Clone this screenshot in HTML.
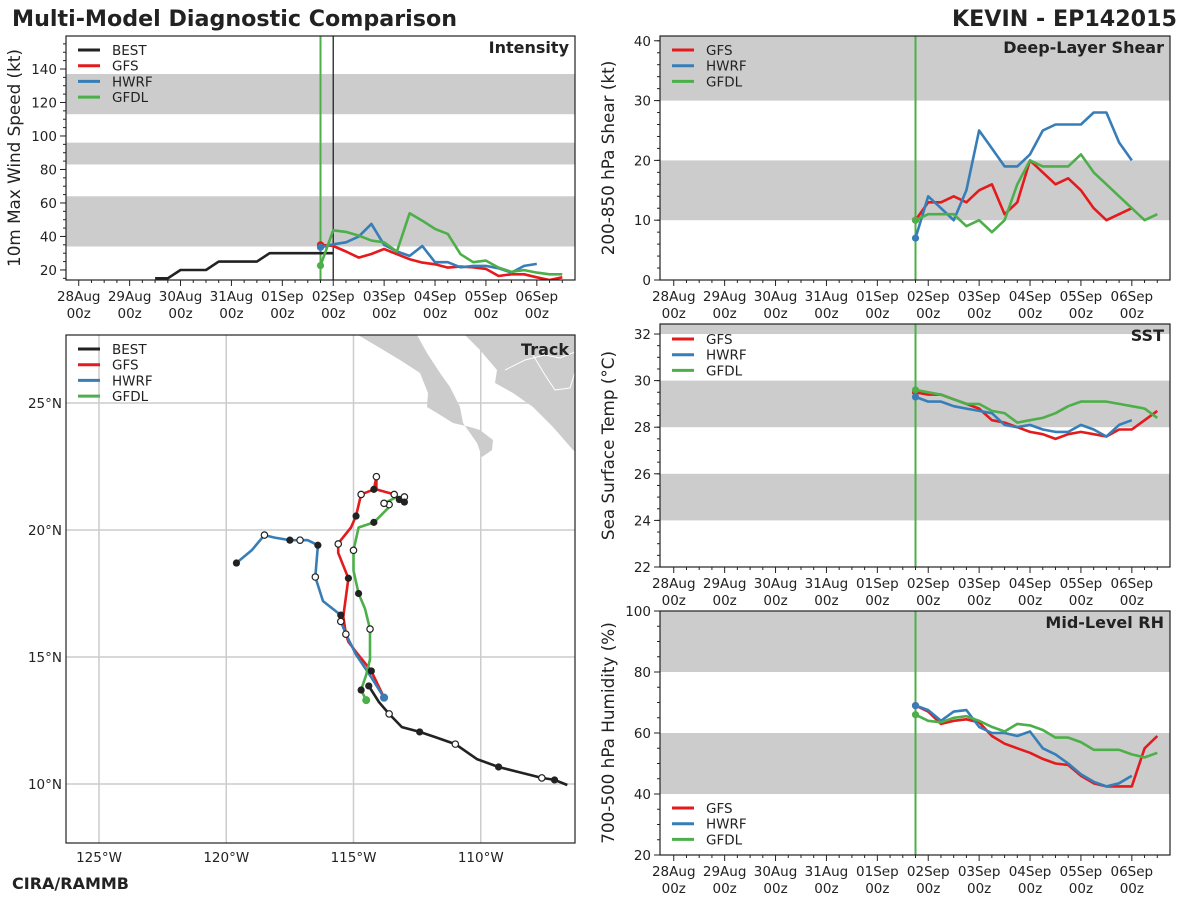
<!DOCTYPE html>
<html><head><meta charset="utf-8"><style>
body{margin:0;background:#fff;}
svg{display:block;font-family:"DejaVu Sans","Liberation Sans",sans-serif;}
</style></head><body>
<svg id="s" width="1200" height="900" viewBox="0 0 1200 900">
<text x="12" y="26" font-size="22.2" font-weight="bold" fill="#222">Multi-Model Diagnostic Comparison</text>
<text x="1177" y="26" font-size="22.2" font-weight="bold" fill="#222" text-anchor="end">KEVIN - EP142015</text>
<text x="12" y="889" font-size="16" font-weight="bold" fill="#222">CIRA/RAMMB</text>
</svg>
<script>
// ---------- data ----------
const dayLabels=["28Aug","29Aug","30Aug","31Aug","01Sep","02Sep","03Sep","04Sep","05Sep","06Sep"];
const modelStart=4.75, step=0.25;
const bestStart=1.5;
const intBest=[15,15,20,20,20,25,25,25,25,30,30,30,30,30,30];
const intGFS=[35,34.3,31,27.4,29.5,32.5,29.4,26.4,24.4,23.4,21.4,22,21.6,20.6,16.4,17.4,17.4,15.6,14,15.6];
const intHWRF=[33.5,35.3,36.5,39.9,47.5,35,31,28.4,34.3,24.6,24.6,21.6,22.4,22.4,21,18.4,22.4,23.6];
const intGFDL=[22.6,43.7,42.7,40.5,37.5,36.5,31,53.8,49.4,44.5,41.5,29.4,24.6,25.6,21.4,18.9,19.9,18.4,17.4,17.4];
const shrGFS=[10,13,13,14,13,15,16,11,13,20,18,16,17,15,12,10,11,12];
const shrHWRF=[7,14,12,10,15,25,22,19,19,21,25,26,26,26,28,28,23,20];
const shrGFDL=[10,11,11,11,9,10,8,10,16,20,19,19,19,21,18,16,14,12,10,11];
const sstGFS=[29.5,29.4,29.4,29.2,29.0,28.8,28.3,28.2,28.0,27.8,27.7,27.5,27.7,27.8,27.7,27.6,27.9,27.9,28.3,28.7];
const sstHWRF=[29.3,29.1,29.1,28.9,28.8,28.7,28.6,28.1,28.0,28.1,27.9,27.8,27.8,28.1,27.9,27.6,28.1,28.3];
const sstGFDL=[29.6,29.5,29.4,29.2,29.0,29.0,28.7,28.6,28.2,28.3,28.4,28.6,28.9,29.1,29.1,29.1,29.0,28.9,28.8,28.4];
const rhGFS=[69,67,63,64,64.5,63.5,59,56.5,55,53.5,51.5,50,49.5,46,43.5,42.5,42.5,42.5,55,59];
const rhHWRF=[69,67.5,64,67,67.5,62,60,60,59,60.5,55,53,50,46.5,44,42.5,43.5,46];
const rhGFDL=[66,64,63.5,65,65.5,64,62,60.5,63,62.5,61,58.5,58.5,57,54.5,54.5,54.5,53,52,53.5];
// tracks: [lonW, latN, marker]  marker: s=start, f=filled, o=open, ''=none
const trkBest=[[106.6,9.96,''],[107.1,10.16,'f'],[107.6,10.24,'o'],[108.5,10.47,''],[109.3,10.67,'f'],[110.15,10.98,''],[111.0,11.57,'o'],[111.8,11.85,''],[112.4,12.05,'f'],[113.1,12.24,''],[113.6,12.76,'o'],[114.0,13.23,''],[114.4,13.86,'f']];
const trkGFS=[[113.8,13.4,'s'],[114.3,14.45,'f'],[114.9,15.2,''],[115.2,15.6,''],[115.3,15.9,''],[115.4,16.6,''],[115.2,18.1,'f'],[115.6,19.1,''],[115.6,19.45,'o'],[115.5,19.6,''],[115.1,20.1,''],[114.9,20.55,'f'],[114.7,21.4,'o'],[114.2,21.6,'f'],[114.1,22.1,'o'],[114.1,21.6,''],[113.4,21.4,'o'],[113.2,21.2,'f']];
const trkHWRF=[[113.8,13.4,'s'],[114.3,14.2,''],[114.9,15.1,''],[115.3,15.9,'o'],[115.5,16.4,'o'],[115.5,16.65,'f'],[116.2,17.2,''],[116.5,18.15,'o'],[116.4,19.4,'f'],[116.8,19.6,''],[117.1,19.6,'o'],[117.5,19.6,'f'],[118.1,19.7,''],[118.5,19.8,'o'],[119.0,19.2,''],[119.6,18.7,'f']];
const trkGFDL=[[114.5,13.3,'s'],[114.7,13.7,'f'],[114.5,14.3,''],[114.35,14.9,''],[114.35,16.1,'o'],[114.55,16.9,''],[114.8,17.5,'f'],[115.0,18.4,''],[115.0,19.2,'o'],[114.8,20.1,''],[114.2,20.3,'f'],[113.6,20.9,''],[113.6,21.0,'o'],[113.8,21.05,'o'],[113.3,21.3,''],[113.0,21.3,'o'],[113.0,21.1,'f']];
const lonTicks=[125,120,115,110];
const latTicks=[10,15,20,25];

const C={BEST:"#222222",GFS:"#e41a1c",HWRF:"#377eb8",GFDL:"#4daf4a"};
const NS="http://www.w3.org/2000/svg";
const svg=document.getElementById('s');
function mk(tag,at,par){const e=document.createElementNS(NS,tag);for(const k in at)e.setAttribute(k,at[k]);(par||svg).appendChild(e);return e;}

function panel(o){
  const g=mk('g',{});
  
  
  const X=t=>o.x0+(t-o.t0)/(o.t1-o.t0)*(o.x1-o.x0);
  const Y=v=>o.y1-(v-o.v0)/(o.v1-o.v0)*(o.y1-o.y0);
  const cp=mk('clipPath',{id:'c'+o.name},g);mk('rect',{x:o.x0,y:o.y0,width:o.x1-o.x0,height:o.y1-o.y0},cp);
  const inner=mk('g',{'clip-path':'url(#c'+o.name+')'},g);
  o.bands.forEach(b=>{const r=mk('rect',{x:o.x0,y:Y(Math.min(b[1],o.v1)),width:o.x1-o.x0,height:Y(b[0])-Y(Math.min(b[1],o.v1)),fill:'#cccccc'},inner);
    
    });
  for(let v=o.minor0;v<=o.v1;v+=o.minor){const yy=Y(v);if(yy<o.y0-0.5)continue;mk('line',{x1:o.x0-3,x2:o.x0,y1:yy,y2:yy,stroke:'#222','stroke-width':1},g);}
  o.yticks.forEach(v=>{const yy=Y(v);mk('line',{x1:o.x0-6,x2:o.x0,y1:yy,y2:yy,stroke:'#222','stroke-width':1},g);
    const t=mk('text',{x:o.x0-9,y:yy+5,'font-size':13.5,'text-anchor':'end',fill:'#222'},g);t.textContent=v;
    
    });
  dayLabels.forEach((d,i)=>{const xx=X(i);mk('line',{x1:xx,x2:xx,y1:o.y1,y2:o.y1+6,stroke:'#222'},g);
    for(let h=1;h<4;h++){const xm=X(i+h/4);if(xm<o.x1)mk('line',{x1:xm,x2:xm,y1:o.y1,y2:o.y1+3,stroke:'#222'},g);}
    const t=mk('text',{x:xx,y:o.y1+21,'font-size':13.5,'text-anchor':'middle',fill:'#222'},g);t.textContent=d;
    
    
    const t2=mk('text',{x:xx,y:o.y1+38,'font-size':13.5,'text-anchor':'middle',fill:'#222'},g);t2.textContent='00z';});
  mk('line',{x1:X(modelStart),x2:X(modelStart),y1:o.y0,y2:o.y1,stroke:C.GFDL,'stroke-width':2},inner);
  if(o.bestLine)mk('line',{x1:X(5),x2:X(5),y1:o.y0,y2:o.y1,stroke:'#222','stroke-width':1.3},inner);
  o.series.forEach(s=>{
    const pts=s.vals.map((v,i)=>X(s.start+i*step).toFixed(1)+','+Y(v).toFixed(1)).join(' ');
    const l=mk('polyline',{points:pts,fill:'none',stroke:C[s.m],'stroke-width':2.6,'stroke-linejoin':'round'},inner);
    
    
    if(s.m!=='BEST')mk('circle',{cx:X(s.start),cy:Y(s.vals[0]),r:3.6,fill:C[s.m]},inner);
  });
  mk('rect',{x:o.x0,y:o.y0,width:o.x1-o.x0,height:o.y1-o.y0,fill:'none',stroke:'#222','stroke-width':1.2},g);
  const ti=mk('text',{x:o.x1-6,y:o.y0+17,'font-size':16,'font-weight':'bold','text-anchor':'end',fill:'#222'},g);ti.textContent=o.title;
  
  
  const cy=(o.y0+o.y1)/2;
  const yl=mk('text',{x:0,y:0,'font-size':16.8,'text-anchor':'middle',fill:'#222',transform:`translate(${o.x0-46},${cy}) rotate(-90)`},g);yl.textContent=o.ylabel;
  
  
  legend(g,o.x0+12,o.legY,o.series.map(s=>s.m));
}
function legend(g,x,y,names){
  names.forEach((n,i)=>{const yy=y+i*15.7;
    mk('line',{x1:x,x2:x+22,y1:yy,y2:yy,stroke:C[n],'stroke-width':3},g);
    const t=mk('text',{x:x+34,y:yy+5,'font-size':13.5,fill:'#222'},g);t.textContent=n;
    
    });
}
const L={x0:66,x1:575,t0:-0.25,t1:9.75};
const R={x0:660,x1:1170,t0:-0.27,t1:9.75};
panel(Object.assign({},L,{name:'intensity-panel',y0:36,y1:280,v0:14,v1:159.7,bands:[[34,64],[83,96],[113,137]],minor0:15,minor:5,yticks:[20,40,60,80,100,120,140],title:'Intensity',ylabel:'10m Max Wind Speed (kt)',legY:50,bestLine:true,
  series:[{m:'BEST',vals:intBest,start:bestStart},{m:'GFS',vals:intGFS,start:modelStart},{m:'HWRF',vals:intHWRF,start:modelStart},{m:'GFDL',vals:intGFDL,start:modelStart}]}));
panel(Object.assign({},R,{name:'shear-panel',y0:36,y1:280,v0:0,v1:40.8,bands:[[10,20],[30,40.8]],minor0:0,minor:2,yticks:[0,10,20,30,40],title:'Deep-Layer Shear',ylabel:'200-850 hPa Shear (kt)',legY:50,
  series:[{m:'GFS',vals:shrGFS,start:modelStart},{m:'HWRF',vals:shrHWRF,start:modelStart},{m:'GFDL',vals:shrGFDL,start:modelStart}]}));
panel(Object.assign({},R,{name:'sst-panel',y0:324,y1:567,v0:22,v1:32.43,bands:[[24,26],[28,30],[32,33]],minor0:22,minor:0.5,yticks:[22,24,26,28,30,32],title:'SST',ylabel:'Sea Surface Temp (°C)',legY:339,
  series:[{m:'GFS',vals:sstGFS,start:modelStart},{m:'HWRF',vals:sstHWRF,start:modelStart},{m:'GFDL',vals:sstGFDL,start:modelStart}]}));
panel(Object.assign({},R,{name:'rh-panel',y0:611,y1:855,v0:20,v1:100,bands:[[40,60],[80,100]],minor0:20,minor:5,yticks:[20,40,60,80,100],title:'Mid-Level RH',ylabel:'700-500 hPa Humidity (%)',legY:808,
  series:[{m:'GFS',vals:rhGFS,start:modelStart},{m:'HWRF',vals:rhHWRF,start:modelStart},{m:'GFDL',vals:rhGFDL,start:modelStart}]}));

// ---------- track ----------
(function(){
  const x0=66,x1=575,y0=335,y1=843;
  const LX=w=>99+(125-w)*25.45;
  const LY=la=>784-(la-10)*25.4;
  const g=mk('g',{});
  
  
  const cp=mk('clipPath',{id:'ctrk'},g);mk('rect',{x:x0,y:y0,width:x1-x0,height:y1-y0},cp);
  const inner=mk('g',{'clip-path':'url(#ctrk)'},g);
  lonTicks.forEach(w=>{mk('line',{x1:LX(w),x2:LX(w),y1:y0,y2:y1,stroke:'#cccccc','stroke-width':1.5},inner);
    const t=mk('text',{x:LX(w),y:y1+19,'font-size':13.5,'text-anchor':'middle',fill:'#222'},g);t.textContent=w+'°W';
    
    });
  latTicks.forEach(la=>{mk('line',{x1:x0,x2:x1,y1:LY(la),y2:LY(la),stroke:'#cccccc','stroke-width':1.5},inner);
    const t=mk('text',{x:x0-4,y:LY(la)+5,'font-size':13.5,'text-anchor':'end',fill:'#222'},g);t.textContent=la+'°N';
    
    });
  const baja=mk('polygon',{points:"358,335 380,348 400,360 420,373 428,393 427,407 437,413 453,423 470,427 480,430 493,440 492,450 482,457 477,443 463,423 460,407 450,387 440,373 427,353 417,335",fill:'#cccccc'},inner);
  
  
  const mx=mk('polygon',{points:"465,335 480,350 497,370 495,383 513,393 533,407 553,427 573,450 576,452 576,335",fill:'#cccccc'},inner);
  
  
  mk('polyline',{points:"505,370 525,360 545,355 560,358 575,352",fill:'none',stroke:'#fff','stroke-width':1},inner);
  mk('polyline',{points:"533,355 545,375 555,390 570,388 575,372",fill:'none',stroke:'#fff','stroke-width':1},inner);
  const tracks=[['BEST',trkBest],['GFS',trkGFS],['HWRF',trkHWRF],['GFDL',trkGFDL]];
  tracks.forEach(([m,pts])=>{
    const l=mk('polyline',{points:pts.map(p=>LX(p[0]).toFixed(1)+','+LY(p[1]).toFixed(1)).join(' '),fill:'none',stroke:C[m],'stroke-width':2.6,'stroke-linejoin':'round'},inner);
    
    
  });
  tracks.forEach(([m,pts])=>{
    pts.forEach(p=>{
      if(p[2]==='s')mk('circle',{cx:LX(p[0]),cy:LY(p[1]),r:4,fill:C[m]},inner);
      else if(p[2]==='f')mk('circle',{cx:LX(p[0]),cy:LY(p[1]),r:3.6,fill:'#222'},inner);
      else if(p[2]==='o')mk('circle',{cx:LX(p[0]),cy:LY(p[1]),r:3.2,fill:'#fff',stroke:'#222','stroke-width':1.2},inner);
    });
  });
  mk('rect',{x:x0,y:y0,width:x1-x0,height:y1-y0,fill:'none',stroke:'#222','stroke-width':1.2},g);
  const ti=mk('text',{x:x1-6,y:y0+20,'font-size':16,'font-weight':'bold','text-anchor':'end',fill:'#222'},g);ti.textContent='Track';
  
  
  legend(g,x0+12,349,['BEST','GFS','HWRF','GFDL']);
})();
</script>
</body></html>
